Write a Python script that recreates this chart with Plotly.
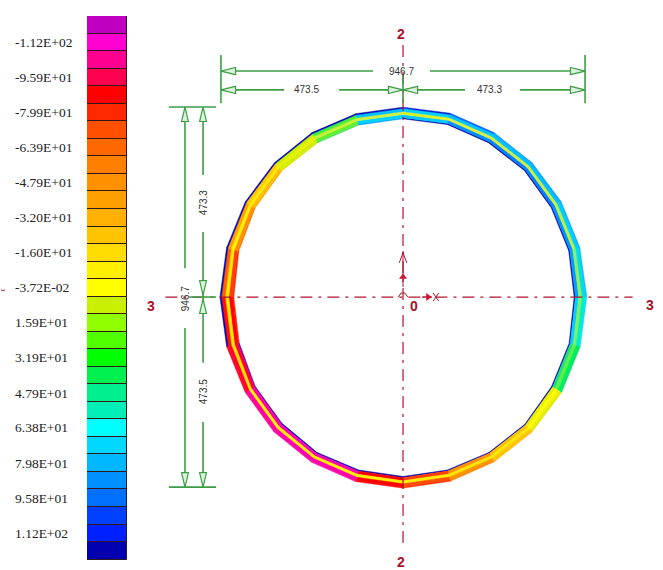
import numpy as np
import plotly.graph_objects as go

# legend bands, top to bottom
band_values = [-120, -112, -104, -95.9, -88, -79.9, -72, -63.9, -56, -47.9, -40, -32.0, -24, -16.0, -8,
               -0.0372, 8, 15.9, 24, 31.9, 40, 47.9, 56, 63.8, 72, 79.8, 88, 95.8, 104, 112, 120]
band_colors = ["#C000C0", "#FF00D0", "#FF0090", "#FF0050", "#FF0000", "#FF2800", "#FF5000", "#FF6800",
               "#FF8000", "#FF9000", "#FFA000", "#FFB000", "#FFC400", "#FFDC00", "#FFF000", "#FFFF00",
               "#C8F000", "#90FF00", "#50FF00", "#00FF00", "#00F050", "#00F090", "#00F0B8", "#00FFFF",
               "#00D8FF", "#00B8FF", "#0090FF", "#0070FF", "#0040FF", "#0020FF", "#0000B0"]
tick_values = [-112, -95.9, -79.9, -63.9, -47.9, -32.0, -16.0, -0.0372, 15.9, 31.9, 47.9, 63.8, 79.8, 95.8, 112]
tick_labels = ["-1.12E+02", "-9.59E+01", "-7.99E+01", "-6.39E+01", "-4.79E+01", "-3.20E+01", "-1.60E+01",
               "-3.72E-02", "1.59E+01", "3.19E+01", "4.79E+01", "6.38E+01", "7.98E+01", "9.58E+01", "1.12E+02"]

# ring section, 24 vertices clockwise from the top
r_inner = [444, 445, 444, 446, 445, 446, 445, 447, 446, 448, 447, 446,
           447, 446, 447, 445, 444, 441, 440, 442, 444, 445, 444, 444]
r_outer = [473, 474, 473, 474, 475, 476, 478, 477, 476, 475, 474, 475,
           476, 476, 475, 475, 474, 475, 476, 475, 474, 473, 473, 473]

# colour of each of the 5 layers per sector, inner to outer wall
DARK = "#0000B0"
layer_1 = [DARK, DARK, DARK, DARK, DARK, DARK, DARK, DARK, DARK, DARK, DARK, DARK,
           DARK, DARK, DARK, "#6000A0", "#7000B0", "#FF2000", "#FF2000", "#FF7000", "#FFA000", "#E0E000", "#40E060", "#00A0FF"]
layer_2 = ["#00C8FF", "#0090FF", "#0080FF", "#0080FF", "#0090FF", "#00A0FF", "#00D0FF", "#20E080", "#E8F000", "#FFC000", "#FF9000", "#FF4000",
           "#FF0000", "#FF00B0", "#FF00B0", "#FF00A0", "#FF0030", "#FF0000", "#FF4000", "#FF9000", "#FFC000", "#D0F000", "#60F030", "#00D0FF"]
layer_3 = ["#E0F020", "#D8F040", "#D0F040", "#D0F040", "#C0F040", "#90F060", "#80F060", "#60F040", "#FFFF00", "#FFE800", "#FFE800", "#FFF000",
           "#FFF000", "#FFF000", "#FFF000", "#FFF000", "#FFE000", "#FFE800", "#FFE800", "#FFF000", "#FFE800", "#E8F000", "#C8F030", "#D0F040"]
layer_4 = ["#00D0FF", "#00C0FF", "#00C0FF", "#00C0FF", "#00D0FF", "#00E0E0", "#00F0C0", "#00F060", "#F0F000", "#FFC800", "#FF9800", "#FF5000",
           "#FF0000", "#FF00B0", "#FF00B0", "#FF00A0", "#FF0030", "#FF1000", "#FF6000", "#FFA000", "#FFC800", "#C8F000", "#40F040", "#00C0FF"]
layer_5 = ["#0020D0", "#0060FF", "#00A0FF", "#00A0FF", "#00B0FF", "#00C0FF", "#00E0FF", "#00E060", "#D8E800", "#FFB800", "#FF8000", "#FF3000",
           "#FF0000", "#FF00A0", "#FF00A0", "#FF0090", "#FF0020", DARK, DARK, DARK, DARK, DARK, DARK, DARK]
layer_share = [0.10, 0.27, 0.26, 0.27, 0.10]

# dimensions in section units
dim_total = 946.7
dim_left, dim_right = 473.5, 473.3
dim_top, dim_bottom = 473.3, 473.5
row_total_y, row_part_y = 563, 516
col_total_x, col_part_x = -567, -520
GREEN = "#3E9E46"
RED = "#B0142E"

# figure is stretched: about 0.3845 px per unit in x, 0.4014 in y
x_range = [-1048, 676]
y_range = [-680, 740]

fig = go.Figure()

# ring
angles = np.radians(90 - 15 * np.arange(25))
ri = np.array(r_inner + r_inner[:1], dtype=float)
ro = np.array(r_outer + r_outer[:1], dtype=float)
layers = [layer_1, layer_2, layer_3, layer_4, layer_5]
edges = np.cumsum([0] + layer_share)
for k, colors in enumerate(layers):
    for s in range(24):
        r1 = ri[[s, s + 1]] + edges[k] * (ro - ri)[[s, s + 1]]
        r2 = ri[[s, s + 1]] + edges[k + 1] * (ro - ri)[[s, s + 1]]
        rr = [r1[0], r1[1], r2[1], r2[0], r1[0]]
        aa = angles[[s, s + 1, s + 1, s, s]]
        fig.add_trace(go.Scatter(x=rr * np.cos(aa), y=rr * np.sin(aa), mode="lines", fill="toself",
                                 fillcolor=colors[s], line=dict(color=colors[s], width=0.5),
                                 hoverinfo="skip", showlegend=False))


def add_line(xs, ys, color=GREEN, width=1.6, dash=None):
    fig.add_trace(go.Scatter(x=xs, y=ys, mode="lines", line=dict(color=color, width=width, dash=dash),
                             hoverinfo="skip", showlegend=False))


def add_arrow(x, y, dx, dy):
    # hollow arrowhead with its tip at x, y, pointing along dx, dy
    back_x, back_y = x - dx * 38, y - dy * 36
    side_x, side_y = dy * 9, dx * 9
    fig.add_trace(go.Scatter(x=[x, back_x + side_x, back_x - side_x, x],
                             y=[y, back_y + side_y, back_y - side_y, y],
                             mode="lines", fill="toself", fillcolor="#DDF0DD",
                             line=dict(color=GREEN, width=1.2), hoverinfo="skip", showlegend=False))


# centre lines
add_line([0, 0], [628, -620], color=RED, width=1.2, dash="12px,6px,3px,6px")
add_line([-618, 597], [0, 0], color=RED, width=1.2, dash="12px,6px,3px,6px")

# extension lines
for x in [-dim_left, dim_right]:
    add_line([x, x], [603, 483])
add_line([0, 0], [553, 483])
for y in [dim_top, -dim_bottom]:
    add_line([-609, -486], [y, y])
add_line([-556, -486], [0, 0])

# horizontal dimensions
add_line([-dim_left, -78], [row_total_y, row_total_y])
add_line([70, dim_right], [row_total_y, row_total_y])
add_line([-dim_left, -309], [row_part_y, row_part_y])
add_line([-166, 0], [row_part_y, row_part_y])
add_line([0, 161], [row_part_y, row_part_y])
add_line([304, dim_right], [row_part_y, row_part_y])
for x, d in [(-dim_left, -1), (dim_right, 1)]:
    add_arrow(x, row_total_y, d, 0)
for x, d in [(-dim_left, -1), (0, 1), (0, -1), (dim_right, 1)]:
    add_arrow(x, row_part_y, d, 0)

# vertical dimensions
add_line([col_total_x, col_total_x], [dim_top, 72])
add_line([col_total_x, col_total_x], [-77, -dim_bottom])
add_line([col_part_x, col_part_x], [dim_top, 304])
add_line([col_part_x, col_part_x], [162, -164])
add_line([col_part_x, col_part_x], [-311, -dim_bottom])
for y, d in [(dim_top, 1), (-dim_bottom, -1)]:
    add_arrow(col_total_x, y, 0, d)
    add_arrow(col_part_x, y, 0, d)
add_arrow(col_part_x, 5, 0, -1)
add_arrow(col_part_x, -5, 0, 1)

# local axes at the origin
add_line([0, 0], [115, 25], color=RED, width=1)
add_line([-10, 0, 10], [85, 110, 85], color=RED, width=1)
add_line([-12, -5, 5, 12], [0, 10, 10, 0], color=RED, width=1)
add_line([50, 75], [0, 0], color=RED, width=1.5)
fig.add_trace(go.Scatter(x=[0, 65], y=[50, 0], mode="markers",
                         marker=dict(symbol=["triangle-up", "triangle-right"], size=7, color="#D01030"),
                         hoverinfo="skip", showlegend=False))
add_line([78, 86, 78], [10, 0, -10], color=RED, width=1)
add_line([93, 85, 93], [10, 0, -10], color=RED, width=1)

# stray mark left of the legend
add_line([-1045, -1035], [17, 17], color=RED, width=1)

# legend column
fig.add_trace(go.Bar(y=band_values, x=[1] * len(band_values), orientation="h", width=8,
                     marker=dict(color=band_colors, line=dict(color="#301818", width=1)),
                     xaxis="x2", yaxis="y2", hoverinfo="skip", showlegend=False))

annotations = []
for v, t in zip(tick_values, tick_labels):
    annotations.append(dict(x=13 / 663, y=v, xref="paper", yref="y2", text=t, showarrow=False, xanchor="left",
                            font=dict(family="Liberation Serif", size=13.5, color="#222222")))


def dim_text(x, y, text, angle=0):
    annotations.append(dict(x=x, y=y, xref="x", yref="y", text=text, showarrow=False, textangle=angle,
                            bgcolor="rgba(0,0,0,0)", font=dict(family="Liberation Sans", size=10, color="#333333")))


def ref_text(x, y, text):
    annotations.append(dict(x=x, y=y, xref="x", yref="y", text=text, showarrow=False,
                            font=dict(family="Liberation Sans", size=14, color="#A81028", weight="bold")))


dim_text(-3, row_total_y, "946.7")
dim_text(-250, row_part_y, "473.5")
dim_text(226, row_part_y, "473.3")
dim_text(col_total_x, -3, "946.7", -90)
dim_text(col_part_x, 234, "473.3", -90)
dim_text(col_part_x, -237, "473.5", -90)
ref_text(-5, 656, "2")
ref_text(-5, -660, "2")
ref_text(-655, -22, "3")
ref_text(642, -20, "3")
ref_text(29, -22, "0")

fig.update_layout(
    width=663, height=570,
    margin=dict(l=0, r=0, t=0, b=0),
    paper_bgcolor="white", plot_bgcolor="rgba(0,0,0,0)",
    showlegend=False, bargap=0,
    xaxis=dict(range=x_range, visible=False, domain=[0, 1]),
    yaxis=dict(range=y_range, visible=False, domain=[0, 1]),
    xaxis2=dict(range=[0, 1], visible=False, domain=[87 / 663, 127 / 663], anchor="y2"),
    yaxis2=dict(range=[124, -124], visible=False, domain=[10 / 570, 554 / 570], anchor="x2"),
    annotations=annotations,
)

fig.write_html("out.html", config={"displayModeBar": False},
               post_script="document.body.style.margin='0';")
